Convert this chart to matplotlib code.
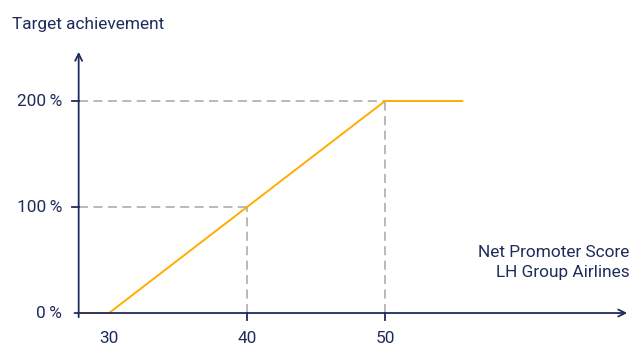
import matplotlib.pyplot as plt

# data (schematic payout curve)
nps = [27.8, 30, 40, 50, 55.6]
achievement = [0, 0, 100, 200, 200]
x_ticks = [30, 40, 50]
y_ticks = [0, 100, 200]
y_labels = ['0\u2009%', '100\u2009%', '200\u2009%']
ref_x = [40, 50]
ref_y = [100, 200]

navy = '#1e2c5c'
orange = '#ffad00'
grey = '#b3b3b3'

plt.rcParams['font.family'] = ['Roboto', 'DejaVu Sans']
fs = 12.4

fig = plt.figure(figsize=(6.33, 3.48), dpi=100)
ax = fig.add_axes([0, 0, 1, 1])
ax.set_xlim(22.1, 67.97)
ax.set_ylim(-33.0, 295.3)
ax.axis('off')

x0 = nps[0]

# dashed reference lines
for xv, yv in zip(ref_x, ref_y):
    ax.plot([x0, xv], [yv, yv], color=grey, lw=1.3, ls=(0, (5, 3)), zorder=1)
    ax.plot([xv, xv], [0, yv], color=grey, lw=1.3, ls=(0, (5, 3)), zorder=1)

# curve
ax.plot(nps, achievement, color=orange, lw=1.4, zorder=3)

# axes with arrows
ax.annotate('', xy=(67.75, 0), xytext=(x0 - 0.5, 0),
            arrowprops=dict(arrowstyle='->,head_length=0.5,head_width=0.25', color=navy, lw=1.3))
ax.annotate('', xy=(x0, 249), xytext=(x0, -6.6),
            arrowprops=dict(arrowstyle='->,head_length=0.5,head_width=0.25', color=navy, lw=1.3))

# ticks
for yv, lab in zip(y_ticks, y_labels):
    if yv > 0:
        ax.plot([x0 - 0.5, x0], [yv, yv], color=navy, lw=1.3)
    ax.text(x0 - 1.2, yv, lab, ha='right', va='center', fontsize=fs, color=navy)
for xv in x_ticks:
    if xv in ref_x:
        ax.plot([xv, xv], [-6.6, 0], color=navy, lw=1.3)
    ax.text(xv, -24, str(xv), ha='center', va='center', fontsize=fs, color=navy)

ax.text(23.0, 272, 'Target achievement', ha='left', va='center', fontsize=fs, color=navy)
ax.text(67.7, 48, 'Net Promoter Score\nLH Group Airlines', ha='right', va='center',
        fontsize=fs, color=navy, linespacing=1.4)

fig.savefig('out.png', dpi=100)
